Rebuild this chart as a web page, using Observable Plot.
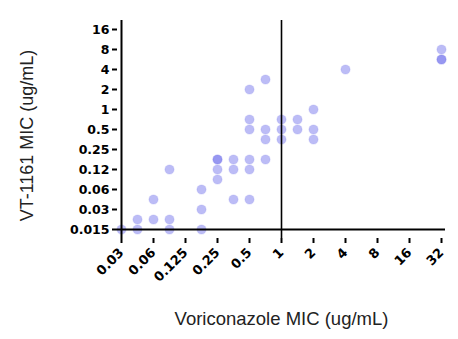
<!DOCTYPE html>
<html>
<head>
<meta charset="utf-8">
<script src="https://cdn.jsdelivr.net/npm/d3@7"></script>
<script src="https://cdn.jsdelivr.net/npm/@observablehq/plot@0.6"></script>
<style>
  html, body { margin: 0; padding: 0; background: #fff; }
  #chart svg { display: block; }
</style>
</head>
<body>
<div id="chart"></div>
<script>
// Dilution levels (full steps plus intermediate E-test steps)
const xLevels = ["0.03","0.047","0.06","0.094","0.125","0.19","0.25","0.38","0.5","0.75","1","1.5","2","3","4","6","8","12","16","24","32"];
const xTicks = ["0.03","0.06","0.125","0.25","0.5","1","2","4","8","16","32"];
const yLevels = ["0.015","0.023","0.03","0.047","0.06","0.094","0.12","0.19","0.25","0.38","0.5","0.75","1","1.5","2","3","4","6","8","12","16"];
const yTicks = ["0.015","0.03","0.06","0.12","0.25","0.5","1","2","4","8","16"];
const breakpoint = ["1"];

// One entry per isolate
const voriconazoleMIC = ["0.03","0.047","0.094","0.19","0.047","0.06","0.094","0.19","0.06","0.38","0.5","0.19","0.25","0.094","0.25","0.38","0.5","0.25","0.25","0.38","0.5","0.75","0.75","1","2","0.5","0.75","1","1.5","2","0.5","1","1.5","2","0.5","0.75","4","32","32","32"];
const vt1161MIC      = ["0.015","0.015","0.015","0.015","0.023","0.023","0.023","0.03","0.047","0.047","0.047","0.06","0.094","0.12","0.12","0.12","0.12","0.19","0.19","0.19","0.19","0.19","0.38","0.38","0.38","0.5","0.5","0.5","0.5","0.5","0.75","0.75","0.75","1","2","3","4","8","6","6"];

const isolates = voriconazoleMIC.map((v, i) => ({vori: v, vt: vt1161MIC[i]}));

const tickFont = "DejaVu Sans, sans-serif";
const titleFont = "Liberation Sans, Arial, sans-serif";

const chart = Plot.plot({
  width: 458,
  height: 339,
  marginLeft: 117,
  marginRight: 13,
  marginTop: 20,
  marginBottom: 101,
  style: {background: "#fff", color: "#000", fontFamily: tickFont},
  x: {type: "point", domain: xLevels, padding: 0},
  y: {type: "point", domain: yLevels, padding: 0, reverse: true},
  marks: [
    Plot.dot(isolates, {x: "vori", y: "vt", r: 4.6, fill: "#6a6aec", fillOpacity: 0.45, stroke: "#6a6aec", strokeOpacity: 0.15, strokeWidth: 1.2}),
    Plot.ruleX(breakpoint, {stroke: "#000", strokeWidth: 1.6}),
    Plot.ruleX([xLevels[0]], {stroke: "#000", strokeWidth: 2}),
    Plot.ruleY([yLevels[0]], {stroke: "#000", strokeWidth: 2}),
    Plot.axisY({ticks: yTicks, tickSize: 5, tickPadding: 3, strokeWidth: 2, fontSize: 12.5, fontWeight: "bold", fontFamily: tickFont, label: null}),
    Plot.axisX({ticks: xTicks, tickSize: 5, tickPadding: 7, strokeWidth: 2, tickRotate: -45, fontSize: 13, fontWeight: "bold", fontFamily: tickFont, label: null}),
    Plot.text(["Voriconazole MIC (ug/mL)"], {frameAnchor: "bottom", text: d => d, dy: 86, fontSize: 18.5, fontFamily: titleFont, fill: "#222"}),
    Plot.text(["VT-1161 MIC (ug/mL)"], {frameAnchor: "left", textAnchor: "middle", text: d => d, rotate: -90, dx: -90, dy: 6, fontSize: 18, fontFamily: titleFont, fill: "#222"})
  ]
});
document.getElementById("chart").appendChild(chart);
</script>
</body>
</html>
